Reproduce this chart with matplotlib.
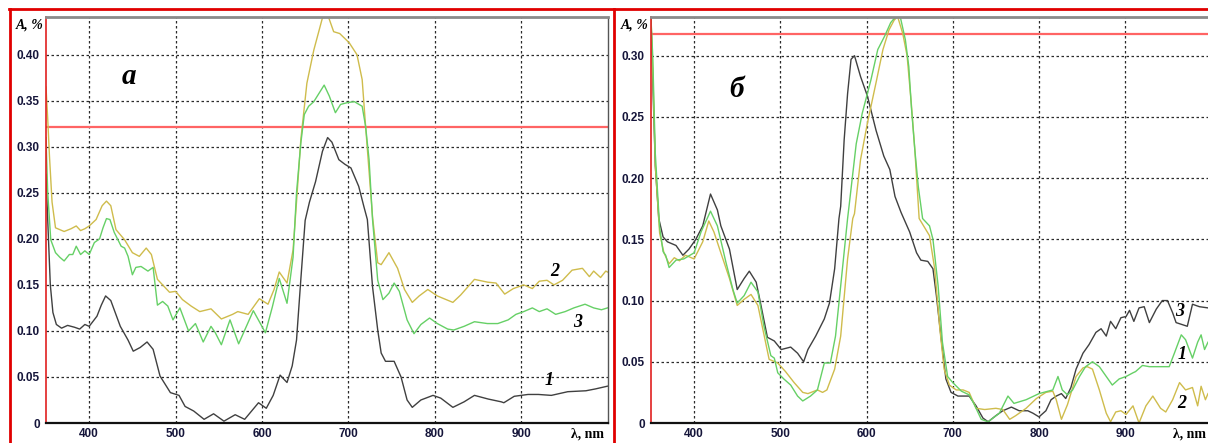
import matplotlib
matplotlib.use("Agg")
import matplotlib.pyplot as plt
from matplotlib.lines import Line2D
from matplotlib.ticker import FuncFormatter

# ---- panel "а" -------------------------------------------------------------
wl_a1 = [350, 352, 355, 358, 362, 368, 375, 383, 389, 395, 400, 409, 414, 419, 425,
         436, 445, 451, 459, 467, 474, 482, 494, 504, 511, 521, 533, 544, 556, 569,
         580, 596, 605, 613, 621, 629, 635, 640, 645, 650, 655, 662, 670, 676, 681,
         689, 696, 703, 712, 718, 722, 728, 734, 738, 743, 753, 761, 768, 774, 784,
         798, 807, 821, 834, 846, 862, 877, 880, 892, 908, 920, 935, 954, 975, 986, 1000]
abs_a1 = [0.27, 0.22, 0.15, 0.12, 0.107, 0.103, 0.106, 0.104, 0.102, 0.107, 0.105, 0.116,
          0.128, 0.138, 0.133, 0.105, 0.09, 0.078, 0.082, 0.088, 0.080, 0.051, 0.033,
          0.030, 0.018, 0.013, 0.004, 0.010, 0.002, 0.009, 0.004, 0.022, 0.016, 0.030,
          0.052, 0.044, 0.062, 0.09, 0.156, 0.220, 0.240, 0.262, 0.295, 0.310, 0.305,
          0.286, 0.281, 0.277, 0.257, 0.235, 0.221, 0.148, 0.101, 0.076, 0.067, 0.067,
          0.050, 0.025, 0.017, 0.025, 0.030, 0.027, 0.017, 0.023, 0.030, 0.026, 0.023,
          0.022, 0.029, 0.031, 0.031, 0.030, 0.034, 0.035, 0.037, 0.040]

wl_a2 = [350, 352, 354, 357, 361, 366, 371, 379, 385, 390, 395, 400, 408, 415, 420,
         425, 431, 441, 450, 458, 466, 472, 479, 485, 493, 500, 508, 518, 528, 541,
         553, 566, 572, 584, 597, 607, 614, 620, 629, 636, 640, 645, 652, 660, 670,
         677, 683, 690, 701, 710, 716, 720, 728, 734, 738, 747, 757, 765, 774, 782,
         792, 803, 821, 830, 846, 861, 871, 881, 891, 903, 913, 921, 930, 938, 948,
         959, 971, 979, 984, 992, 998, 1000]
abs_a2 = [0.365, 0.33, 0.29, 0.24, 0.212, 0.210, 0.208, 0.211, 0.214, 0.209, 0.211,
          0.214, 0.221, 0.236, 0.241, 0.236, 0.210, 0.199, 0.185, 0.181, 0.190, 0.183,
          0.156, 0.150, 0.142, 0.143, 0.134, 0.127, 0.121, 0.124, 0.113, 0.118, 0.121,
          0.118, 0.135, 0.129, 0.145, 0.164, 0.152, 0.188, 0.24, 0.308, 0.369, 0.405,
          0.440, 0.441, 0.425, 0.423, 0.413, 0.400, 0.373, 0.322, 0.224, 0.174, 0.172,
          0.185, 0.168, 0.145, 0.131, 0.138, 0.145, 0.138, 0.131, 0.139, 0.156, 0.153,
          0.152, 0.140, 0.146, 0.150, 0.146, 0.154, 0.155, 0.150, 0.155, 0.166, 0.168,
          0.159, 0.165, 0.158, 0.165, 0.164]

wl_a3 = [350, 352, 355.5, 361, 366, 371, 377, 381, 385, 390, 395, 400, 406, 412, 416,
         420, 424, 429, 437, 441, 445, 450, 454, 460, 468, 474, 479, 485, 491, 497,
         505, 515, 523, 532, 541, 546, 553, 563, 573, 590, 604, 612, 620, 629, 636,
         640, 645, 649, 654, 660, 666, 672, 678, 685, 691, 699, 707, 716, 720, 724,
         728, 734, 740, 747, 753, 759, 768, 776, 784, 794, 803, 815, 822, 834, 846,
         861, 873, 885, 894, 903, 913, 921, 930, 940, 951, 961, 974, 984, 993, 1000]
abs_a3 = [0.31, 0.25, 0.199, 0.185, 0.18, 0.176, 0.183, 0.183, 0.192, 0.183, 0.187,
          0.183, 0.196, 0.200, 0.212, 0.222, 0.221, 0.207, 0.192, 0.190, 0.181, 0.161,
          0.169, 0.170, 0.165, 0.169, 0.128, 0.132, 0.127, 0.112, 0.125, 0.100, 0.108,
          0.088, 0.105, 0.098, 0.085, 0.112, 0.086, 0.122, 0.098, 0.126, 0.157, 0.130,
          0.18, 0.25, 0.304, 0.335, 0.344, 0.349, 0.358, 0.367, 0.355, 0.337, 0.346,
          0.348, 0.349, 0.344, 0.322, 0.286, 0.221, 0.155, 0.134, 0.141, 0.152, 0.143,
          0.112, 0.097, 0.107, 0.114, 0.108, 0.102, 0.101, 0.105, 0.110, 0.108, 0.108,
          0.112, 0.118, 0.121, 0.125, 0.121, 0.124, 0.118, 0.121, 0.125, 0.129, 0.125,
          0.123, 0.125]

# ---- panel "б" -------------------------------------------------------------
wl_b3 = [350, 352, 355, 359, 364, 369, 379, 387, 394, 402, 410, 419, 427, 431, 441,
         450, 458, 464, 472, 477, 485, 493, 501, 512, 520, 527, 532, 541, 551, 557,
         563, 568, 570, 574, 578, 582, 586, 593, 601, 611, 620, 627, 633, 640, 650,
         658, 663, 671, 677, 681, 687, 692, 698, 706, 719, 727, 735, 741, 750, 758,
         768, 777, 787, 793, 800, 808, 814, 820, 826, 831, 837, 843, 851, 858, 866,
         872, 878, 883, 889, 895, 901, 905, 910, 916, 922, 928, 936, 943, 949, 955,
         959, 972, 978, 986, 996]
abs_b3 = [0.33, 0.28, 0.21, 0.167, 0.152, 0.148, 0.145, 0.137, 0.142, 0.150, 0.161,
          0.187, 0.174, 0.161, 0.142, 0.109, 0.118, 0.124, 0.115, 0.098, 0.070, 0.067,
          0.060, 0.062, 0.057, 0.050, 0.060, 0.071, 0.085, 0.098, 0.126, 0.167, 0.177,
          0.231, 0.269, 0.297, 0.300, 0.283, 0.267, 0.239, 0.218, 0.207, 0.185, 0.172,
          0.156, 0.139, 0.133, 0.132, 0.126, 0.104, 0.066, 0.036, 0.025, 0.022, 0.022,
          0.014, 0.004, 0.001, 0.006, 0.010, 0.013, 0.010, 0.010, 0.008, 0.005, 0.010,
          0.019, 0.022, 0.024, 0.020, 0.029, 0.044, 0.057, 0.064, 0.074, 0.077, 0.071,
          0.083, 0.077, 0.086, 0.087, 0.092, 0.083, 0.094, 0.095, 0.082, 0.093, 0.100,
          0.100, 0.090, 0.082, 0.079, 0.097, 0.095, 0.094]

wl_b1 = [350, 352, 355, 360, 364, 367, 371, 379, 388, 400, 408, 419, 427, 437, 445,
         450, 458, 466, 474, 481, 489, 493, 497, 504, 512, 520, 526, 535, 543, 551,
         558, 564, 570, 578, 580, 588, 595, 605, 613, 621, 628, 634, 639, 645, 649,
         652, 656, 660, 665, 673, 677, 683, 688, 694, 700, 710, 719, 725, 733, 741,
         754, 764, 771, 785, 800, 816, 822, 827, 833, 839, 847, 854, 862, 870, 880,
         885, 893, 901, 909, 912, 920, 928, 939, 951, 957, 965, 970, 978, 984, 988,
         992, 996]
abs_b1 = [0.33, 0.30, 0.22, 0.16, 0.14, 0.137, 0.127, 0.133, 0.134, 0.139, 0.156, 0.173,
          0.161, 0.131, 0.109, 0.098, 0.104, 0.115, 0.107, 0.079, 0.055, 0.053, 0.041,
          0.036, 0.031, 0.022, 0.018, 0.022, 0.027, 0.049, 0.049, 0.071, 0.112, 0.167,
          0.179, 0.228, 0.253, 0.280, 0.305, 0.316, 0.327, 0.332, 0.332, 0.313, 0.291,
          0.258, 0.223, 0.193, 0.167, 0.161, 0.150, 0.112, 0.066, 0.038, 0.033, 0.026,
          0.023, 0.015, 0.003, 0.001, 0.008, 0.022, 0.016, 0.019, 0.024, 0.027, 0.038,
          0.027, 0.023, 0.027, 0.038, 0.046, 0.050, 0.046, 0.036, 0.031, 0.036, 0.038,
          0.041, 0.042, 0.047, 0.046, 0.046, 0.046, 0.057, 0.072, 0.068, 0.053, 0.066,
          0.072, 0.060, 0.066]

wl_b2 = [350, 352, 355, 360, 365, 371, 377, 383, 390, 400, 410, 417, 423, 431, 441,
         450, 458, 466, 474, 479, 487, 497, 506, 516, 526, 532, 543, 549, 554, 563,
         570, 578, 584, 586, 593, 601, 611, 619, 626, 632, 636, 642, 647, 652, 656,
         661, 667, 673, 679, 685, 690, 696, 704, 712, 719, 727, 737, 750, 758, 766,
         773, 785, 797, 808, 816, 820, 826, 833, 843, 851, 856, 862, 870, 878, 883,
         889, 895, 901, 909, 916, 924, 932, 941, 947, 955, 963, 970, 978, 984, 988,
         993, 996]
abs_b2 = [0.33, 0.29, 0.21, 0.155, 0.139, 0.130, 0.135, 0.1325, 0.137, 0.134, 0.148,
          0.165, 0.156, 0.139, 0.118, 0.096, 0.101, 0.105, 0.096, 0.079, 0.052, 0.049,
          0.042, 0.033, 0.025, 0.024, 0.027, 0.025, 0.027, 0.044, 0.071, 0.134, 0.167,
          0.171, 0.215, 0.245, 0.278, 0.305, 0.321, 0.329, 0.332, 0.318, 0.30, 0.26,
          0.223, 0.167, 0.160, 0.153, 0.126, 0.077, 0.044, 0.031, 0.027, 0.027, 0.025,
          0.012, 0.011, 0.012, 0.011, 0.003, 0.006, 0.012, 0.020, 0.025, 0.026, 0.019,
          0.003, 0.015, 0.038, 0.045, 0.046, 0.044, 0.027, 0.008, 0.001, 0.009, 0.010,
          0.007, 0.014, 0.000, 0.014, 0.022, 0.012, 0.009, 0.019, 0.033, 0.027, 0.029,
          0.014, 0.030, 0.019, 0.024]

x_ticks = [400, 500, 600, 700, 800, 900]
y_ticks_a = [0, 0.05, 0.10, 0.15, 0.20, 0.25, 0.30, 0.35, 0.40]
y_ticks_b = [0, 0.05, 0.10, 0.15, 0.20, 0.25, 0.30]
threshold_a = 0.322
threshold_b = 0.318

BLACK = "#404040"
YELLOW = "#cfbc4c"
GREEN = "#66d066"
RED = "#e00000"
TICK_FONT = dict(family="Liberation Sans", weight="bold", size=8.5)
SERIF = "Liberation Serif"

W, H = 1208, 443
fig = plt.figure(figsize=(W / 100, H / 100), dpi=100)


def px_rect(x0, y0, x1, y1):
    return [x0 / W, 1 - y1 / H, (x1 - x0) / W, (y1 - y0) / H]


def style_axes(ax, xmax, ymax, yticks, right_spine=True):
    ax.set_xlim(350, xmax)
    ax.set_ylim(0, ymax)
    ax.set_xticks(x_ticks)
    ax.set_yticks(yticks)
    ax.yaxis.set_major_formatter(FuncFormatter(lambda v, _: "0" if v == 0 else f"{v:.2f}"))
    ax.grid(True, color="#2a2a2a", linestyle=(0, (2, 2)), linewidth=0.9)
    ax.set_axisbelow(True)
    ax.tick_params(length=0, colors="#15153a")
    ax.tick_params(axis="x", pad=3.5)
    ax.tick_params(axis="y", pad=4.5)
    for lab in ax.get_xticklabels() + ax.get_yticklabels():
        lab.set_fontproperties(TICK_FONT)
    ax.spines["top"].set_color("#8a8a8a")
    ax.spines["top"].set_linewidth(2)
    ax.spines["left"].set_color("#e02020")
    ax.spines["left"].set_linewidth(1.2)
    ax.spines["bottom"].set_color("#111111")
    ax.spines["bottom"].set_linewidth(1.6)
    ax.spines["bottom"].set_linestyle((0, (1.5, 1)))
    if right_spine:
        ax.spines["right"].set_color("#555555")
        ax.spines["right"].set_linewidth(1)
    else:
        ax.spines["right"].set_visible(False)


ax_a = fig.add_axes(px_rect(46, 16.5, 607.5, 423))
ax_b = fig.add_axes(px_rect(651, 16.5, 1208, 423))
style_axes(ax_a, 1000, 0.4415, y_ticks_a)
style_axes(ax_b, 996, 0.332, y_ticks_b, right_spine=False)

lw = 1.0
ax_a.axhline(threshold_a, color="#ff6464", lw=1.6)
ax_a.plot(wl_a1, abs_a1, color=BLACK, lw=lw)
ax_a.plot(wl_a2, abs_a2, color=YELLOW, lw=lw)
ax_a.plot(wl_a3, abs_a3, color=GREEN, lw=lw)

ax_b.axhline(threshold_b, color="#ff6464", lw=1.6)
ax_b.plot(wl_b3, abs_b3, color=BLACK, lw=lw)
ax_b.plot(wl_b2, abs_b2, color=YELLOW, lw=lw)
ax_b.plot(wl_b1, abs_b1, color=GREEN, lw=lw)

label_kw = dict(family=SERIF, style="italic", weight="bold", size=13,
                ha="center", va="center")
ax_a.text(939, 0.165, "2", **label_kw)
ax_a.text(966, 0.109, "3", **label_kw)
ax_a.text(932, 0.046, "1", **label_kw)
ax_b.text(963, 0.091, "3", **label_kw)
ax_b.text(966, 0.056, "1", **label_kw)
ax_b.text(966, 0.016, "2", **label_kw)

panel_kw = dict(family=SERIF, style="italic", weight="bold", size=21,
                ha="center", va="center")
ax_a.text(446, 0.376, "а", **panel_kw)
ax_b.text(449, 0.272, "б", **panel_kw)

# axis captions
for x_right in (43, 648):
    fig.text(x_right / W, 1 - 25 / H, "A, %", family=SERIF, style="italic",
             weight="bold", size=10, ha="right", va="center")
for x_right in (604, 1206):
    fig.text(x_right / W, 1 - 434 / H, "λ, nm", family=SERIF, weight="bold",
             size=10, ha="right", va="center")

# red frame around the panels
frame = [((9.5, 9.5), (9, H)), ((9, W), (9, 9)), ((614, 614), (9, H))]
for xs, ys in frame:
    fig.add_artist(Line2D([x / W for x in xs], [1 - y / H for y in ys],
                          transform=fig.transFigure, color=RED, lw=2))

fig.savefig("out.png", dpi=100)
